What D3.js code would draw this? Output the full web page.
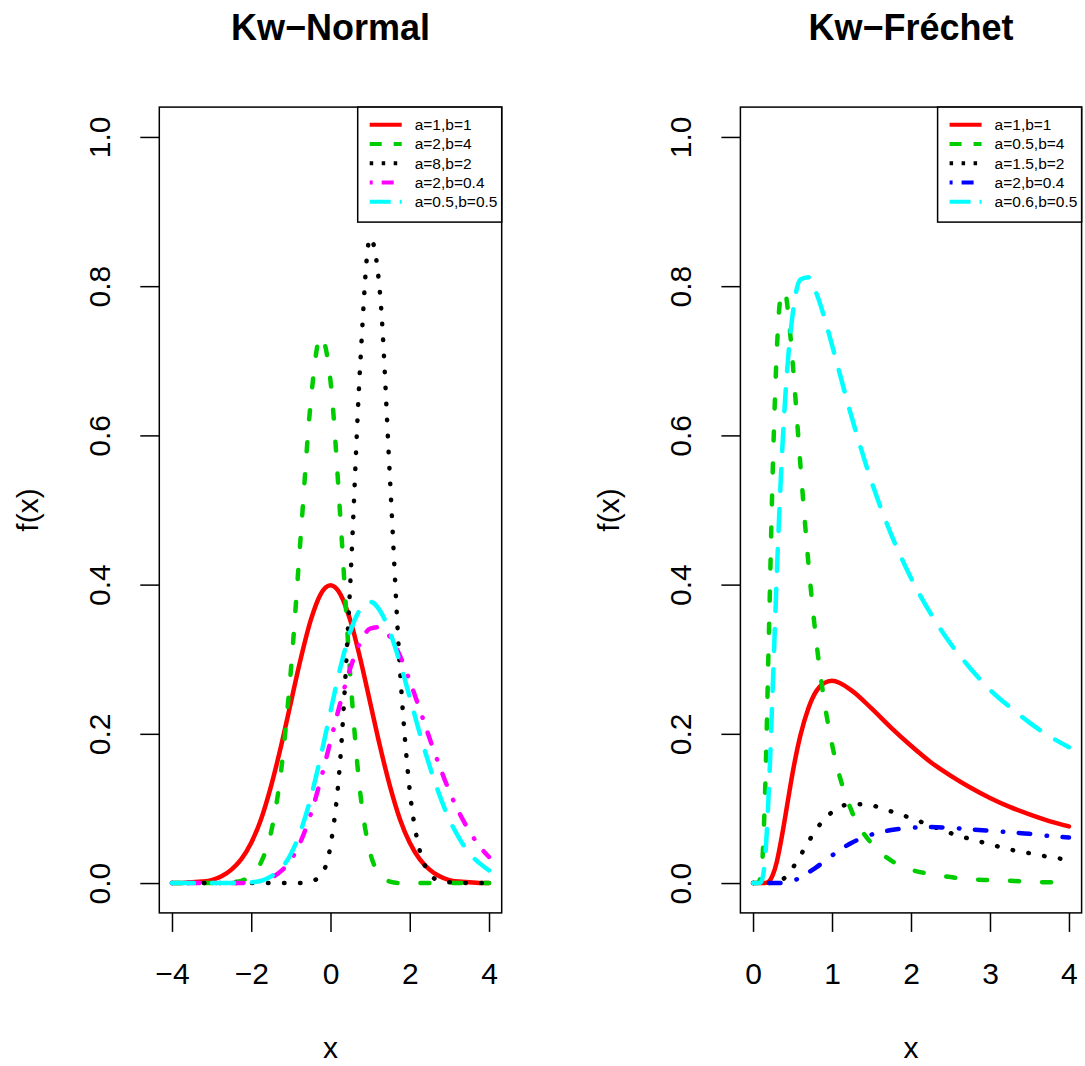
<!DOCTYPE html>
<html>
<head>
<meta charset="utf-8">
<script src="https://cdn.jsdelivr.net/npm/d3@7"></script>
<style>
body { margin: 0; background: #fff; }
text { font-family: "Liberation Sans", Arial, Helvetica, sans-serif; fill: #000; }
</style>
</head>
<body>
<div id="chart"></div>
<script>
// grid for the Kw-Normal panel
var xNormal = [-4, -3.75, -3.5, -3.25, -3, -2.75, -2.5, -2.25, -2, -1.75, -1.5, -1.25, -1, -0.75, -0.5, -0.25,
  0, 0.25, 0.5, 0.75, 1, 1.25, 1.5, 1.75, 2, 2.25, 2.5, 2.75, 3, 3.25, 3.5, 3.75, 4];

var normA1B1 = [0, 0, 0.001, 0.002, 0.004, 0.009, 0.018, 0.032, 0.054, 0.086, 0.130, 0.183, 0.242, 0.301, 0.352, 0.387,
  0.399, 0.387, 0.352, 0.301, 0.242, 0.183, 0.130, 0.086, 0.054, 0.032, 0.018, 0.009, 0.004, 0.002, 0.001, 0, 0];
var normA2B4 = [0, 0, 0, 0, 0, 0, 0.001, 0.003, 0.010, 0.028, 0.068, 0.149, 0.285, 0.466, 0.644, 0.733,
  0.673, 0.489, 0.277, 0.121, 0.041, 0.011, 0.002, 0, 0, 0, 0, 0, 0, 0, 0, 0, 0];
var normA8B2 = [0, 0, 0, 0, 0, 0, 0, 0, 0, 0, 0, 0, 0, 0, 0.002, 0.010,
  0.050, 0.168, 0.403, 0.695, 0.865, 0.790, 0.543, 0.289, 0.124, 0.044, 0.013, 0.003, 0.001, 0, 0, 0, 0];
var normA2B04 = [0, 0, 0, 0, 0, 0, 0, 0, 0.001, 0.003, 0.007, 0.016, 0.031, 0.056, 0.092, 0.138,
  0.190, 0.242, 0.288, 0.322, 0.341, 0.343, 0.330, 0.305, 0.271, 0.233, 0.194, 0.157, 0.123, 0.094, 0.070, 0.050, 0.035];
var normA05B05 = [0, 0, 0, 0, 0, 0, 0, 0, 0.001, 0.003, 0.009, 0.019, 0.039, 0.070, 0.114, 0.169,
  0.230, 0.289, 0.337, 0.367, 0.377, 0.365, 0.336, 0.296, 0.249, 0.201, 0.157, 0.118, 0.085, 0.060, 0.040, 0.027, 0.017];

// grid for the Kw-Frechet panel
var xFrechet = [0, 0.05, 0.1, 0.15, 0.2, 0.25, 0.3, 0.35, 0.4, 0.45, 0.5, 0.6, 0.7, 0.8, 0.9, 1,
  1.25, 1.5, 1.75, 2, 2.25, 2.5, 2.75, 3, 3.25, 3.5, 3.75, 4];

var frA1B1 = [0, 0, 0, 0, 0.002, 0.011, 0.028, 0.054, 0.084, 0.116, 0.147, 0.198, 0.234, 0.257, 0.268, 0.271,
  0.258, 0.234, 0.208, 0.184, 0.162, 0.144, 0.128, 0.114, 0.102, 0.092, 0.083, 0.076];
var frA05B4 = [0, 0, 0.009, 0.113, 0.330, 0.555, 0.711, 0.785, 0.794, 0.759, 0.700, 0.560, 0.430, 0.325, 0.245, 0.186,
  0.096, 0.053, 0.030, 0.018, 0.012, 0.008, 0.005, 0.004, 0.003, 0.002, 0.001, 0.001];
var frA15B2 = [0, 0, 0, 0, 0, 0, 0.001, 0.003, 0.007, 0.013, 0.020, 0.037, 0.055, 0.072, 0.085, 0.095,
  0.106, 0.104, 0.096, 0.087, 0.077, 0.067, 0.059, 0.052, 0.045, 0.040, 0.035, 0.031];
var frA2B04 = [0, 0, 0, 0, 0, 0, 0, 0, 0.001, 0.001, 0.003, 0.007, 0.014, 0.021, 0.029, 0.037,
  0.054, 0.065, 0.071, 0.074, 0.075, 0.074, 0.072, 0.070, 0.068, 0.066, 0.063, 0.061];
var frA06B05 = [0, 0, 0.001, 0.030, 0.124, 0.264, 0.411, 0.538, 0.638, 0.711, 0.761, 0.809, 0.812, 0.791, 0.759, 0.721,
  0.624, 0.538, 0.467, 0.409, 0.361, 0.321, 0.288, 0.259, 0.236, 0.215, 0.197, 0.182];

var normalLabels = ["a=1,b=1", "a=2,b=4", "a=8,b=2", "a=2,b=0.4", "a=0.5,b=0.5"];
var frechetLabels = ["a=1,b=1", "a=0.5,b=4", "a=1.5,b=2", "a=2,b=0.4", "a=0.6,b=0.5"];

var normalTicks = [-4, -2, 0, 2, 4];
var frechetTicks = [0, 1, 2, 3, 4];
var yTicks = [0, 0.2, 0.4, 0.6, 0.8, 1.0];

// line styles (R lty 1..5); "dash" for curves (round caps), "ldash" for legend samples
var styles = [
  {color: "#FF0000", dash: null, ldash: null},
  {color: "#00CD00", dash: "9,23", ldash: "12,12"},
  {color: "#000000", dash: "0.5,15.5", ldash: "3.5,8.5"},
  {color: "#FF00FF", dash: "0.5,15.5,11.5,16.5", ldash: "3,9,12,9"},
  {color: "#00FFFF", dash: "22,18", ldash: "21,9"}
];
var frechetStyles = styles.slice();
frechetStyles[3] = {color: "#0000FF", dash: "0.5,15.5,11.5,16.5", ldash: "3,9,12,9"};

var W = 1085, H = 1066;
var svg = d3.select("#chart").append("svg")
    .attr("width", W)
    .attr("height", H);

var top_ = 107.1, bottom = 912.9;
var y = d3.scaleLinear().domain([-0.04, 1.04]).range([bottom, top_]);

var drawPanel = function (p) {
  var x = d3.scaleLinear().domain(p.xDomain).range(p.xRange);
  var g = svg.append("g");

  var line = d3.line()
      .x(function(d) { return x(d[0]); })
      .y(function(d) { return y(d[1]); })
      .curve(d3.curveMonotoneX);

  p.series.forEach(function(vals, i) {
    var st = p.styles[i];
    g.append("path")
      .datum(p.xs.map(function(v, j) { return [v, vals[j]]; }))
      .attr("d", line)
      .attr("fill", "none")
      .attr("stroke", st.color)
      .attr("stroke-width", 4.5)
      .attr("stroke-linecap", "round")
      .attr("stroke-linejoin", "round")
      .attr("stroke-dasharray", st.dash);
  });

  // plot box
  g.append("rect")
    .attr("x", p.xRange[0]).attr("y", top_)
    .attr("width", p.xRange[1] - p.xRange[0]).attr("height", bottom - top_)
    .attr("fill", "none").attr("stroke", "#000").attr("stroke-width", 1.5);

  // x axis
  var xa = g.append("g")
    .attr("transform", "translate(0," + bottom + ")")
    .call(d3.axisBottom(x).tickValues(p.ticks).tickSize(19).tickSizeOuter(0).tickPadding(31)
      .tickFormat(d3.format("d")));
  xa.select(".domain").remove();
  xa.selectAll("line").attr("stroke-width", 1.5);
  xa.selectAll("text").attr("font-size", 30).attr("font-family", null);

  // y axis
  var ya = g.append("g")
    .attr("transform", "translate(" + p.xRange[0] + ",0)")
    .call(d3.axisLeft(y).tickValues(yTicks).tickSize(19).tickSizeOuter(0).tickFormat(d3.format(".1f")));
  ya.select(".domain").remove();
  ya.selectAll("line").attr("stroke-width", 1.5);
  ya.selectAll("text")
    .attr("x", null).attr("dy", null)
    .attr("transform", "translate(-49,0) rotate(-90)")
    .attr("text-anchor", "middle")
    .attr("font-size", 30).attr("font-family", null);

  var cx = (p.xRange[0] + p.xRange[1]) / 2;

  // titles and labels
  g.append("text")
    .attr("x", cx).attr("y", 40)
    .attr("text-anchor", "middle")
    .attr("font-size", 36).attr("font-weight", "bold")
    .text(p.title);

  g.append("text")
    .attr("x", cx).attr("y", 1058)
    .attr("text-anchor", "middle")
    .attr("font-size", 30)
    .text("x");

  g.append("text")
    .attr("transform", "translate(" + (p.xRange[0] - 121) + "," + ((top_ + bottom) / 2) + ") rotate(-90)")
    .attr("text-anchor", "middle")
    .attr("font-size", 30)
    .text("f(x)");

  // legend, top right
  var lw = 144, lh = 115;
  var lg = g.append("g")
    .attr("transform", "translate(" + (p.xRange[1] - lw) + "," + top_ + ")");
  lg.append("rect")
    .attr("width", lw).attr("height", lh)
    .attr("fill", "#fff").attr("stroke", "#000").attr("stroke-width", 1.5);

  p.labels.forEach(function(lab, i) {
    var ry = 17.6 + i * 19.25;
    var st = p.styles[i];
    lg.append("line")
      .attr("x1", 12).attr("x2", 44)
      .attr("y1", ry).attr("y2", ry)
      .attr("stroke", st.color)
      .attr("stroke-width", 4)
      .attr("stroke-dasharray", st.ldash);
    lg.append("text")
      .attr("x", 57).attr("y", ry + 5.5)
      .attr("font-size", 15.5)
      .text(lab);
  });
};

drawPanel({
  title: "Kw\u2212Normal",
  xDomain: [-4.32, 4.32], xRange: [159.3, 501.7],
  xs: xNormal, ticks: normalTicks,
  series: [normA1B1, normA2B4, normA8B2, normA2B04, normA05B05],
  styles: styles, labels: normalLabels
});

drawPanel({
  title: "Kw\u2212Fréchet",
  xDomain: [-0.16, 4.16], xRange: [740.4, 1081.6],
  xs: xFrechet, ticks: frechetTicks,
  series: [frA1B1, frA05B4, frA15B2, frA2B04, frA06B05],
  styles: frechetStyles, labels: frechetLabels
});
</script>
</body>
</html>
